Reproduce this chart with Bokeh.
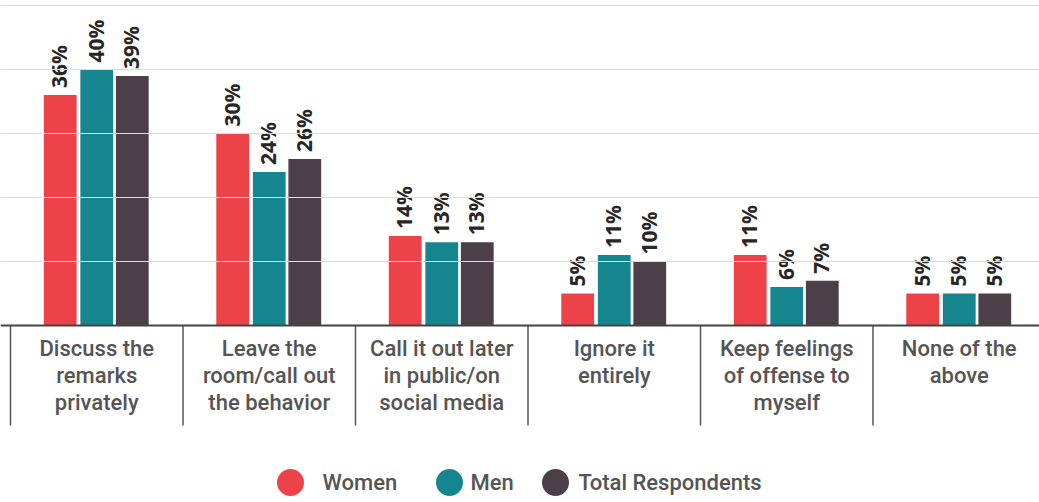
import numpy as np
from bokeh.plotting import figure
from bokeh.models import Range1d, Span
from bokeh.core.properties import value
from bokeh.embed import file_html
from bokeh.resources import INLINE

categories = [
    "Discuss the\nremarks\nprivately",
    "Leave the\nroom/call out\nthe behavior",
    "Call it out later\nin public/on\nsocial media",
    "Ignore it\nentirely",
    "Keep feelings\nof offense to\nmyself",
    "None of the\nabove",
]
series = ["Women", "Men", "Total Respondents"]
women = [36, 30, 14, 5, 11, 5]
men = [40, 24, 13, 11, 6, 5]
total = [39, 26, 13, 10, 7, 5]
gridlines = [10, 20, 30, 40, 50]

colors = ["#EE4249", "#15868F", "#4D3F48"]
values = [women, men, total]

# layout constants (pixels)
PX_X = 172.5          # pixels per category
PX_Y = 6.4            # pixels per percent
W, H = 1039, 502
BASE = 325            # baseline page y
LEFT = 10             # first separator page x
x0 = -LEFT / PX_X
y_top = BASE / PX_Y


def ypx(page_y):
    return -(page_y - BASE) / PX_Y


def xpx(page_x):
    return (page_x - LEFT) / PX_X


p = figure(width=W, height=H, output_backend="svg", toolbar_location=None,
           x_range=Range1d(x0, x0 + W / PX_X),
           y_range=Range1d(y_top - H / PX_Y, y_top),
           x_axis_location=None, y_axis_location=None, min_border=0)
p.xgrid.visible = False
p.ygrid.visible = False
p.outline_line_color = None
p.background_fill_color = "white"

for g in gridlines:
    p.add_layout(Span(location=g, dimension="width", line_color="#dddddd", line_width=1.2))

n = len(categories)
idx = np.arange(n) + 0.5
offsets = [-0.212, 0.0, 0.206]
for j in range(3):
    xs = idx + offsets[j]
    p.vbar(x=xs, top=values[j], bottom=0, width=0.19, color=colors[j], line_color=None)
    p.text(x=xs, y=values[j], text=[f"{v}%" for v in values[j]], angle=np.pi / 2,
           text_align="left", text_baseline="middle", x_offset=-1, y_offset=-7,
           text_font=value("Open Sans"), text_font_style="bold",
           text_font_size="21px", text_color="#262626")

# baseline
p.add_layout(Span(location=0, dimension="width", line_color="#444444", line_width=2))
# category separators
seps = np.arange(n + 1)
p.segment(x0=seps, y0=[0] * (n + 1), x1=seps, y1=[ypx(425)] * (n + 1),
          line_color="#555555", line_width=1.5)

# category labels
lx, ly, lt = [], [], []
for i, c in enumerate(categories):
    for k, line in enumerate(c.split("\n")):
        lx.append(i + 0.5)
        ly.append(ypx(348 + 27 * k))
        lt.append(line)
p.text(x=lx, y=ly, text=lt, text_align="center", text_baseline="middle",
       text_font=value("Roboto Medium"), text_font_size="22px",
       text_color="#555555")

# legend
leg_dot_x = [xpx(290), xpx(449), xpx(555)]
leg_txt_x = [xpx(322), xpx(470), xpx(578)]
p.scatter(x=leg_dot_x, y=[ypx(482)] * 3, size=27, color=colors, line_color=None)
p.text(x=leg_txt_x, y=[ypx(482)] * 3, text=series, text_align="left",
       text_baseline="middle", text_font=value("Roboto Medium"),
       text_font_size="22px", text_color="#555555")

open("out.html", "w").write(file_html(p, INLINE))
